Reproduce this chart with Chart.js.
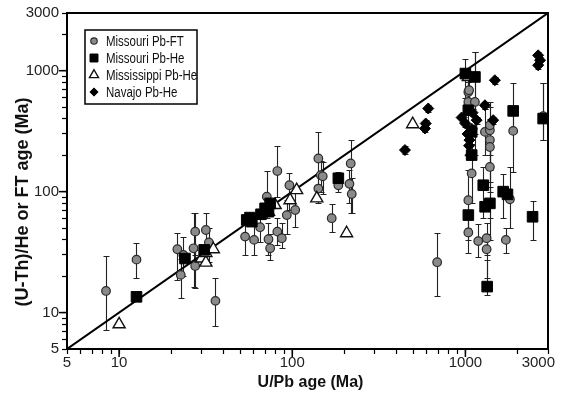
<!DOCTYPE html>
<html><head><meta charset="utf-8">
<script src="https://cdn.jsdelivr.net/npm/chart.js@4.4.0/dist/chart.umd.min.js"></script>
<style>html,body{margin:0;padding:0;background:#fff;}#wrap{width:561px;height:395px;}</style>
</head><body><div id="wrap"><canvas id="c" width="561" height="395"></canvas></div>
<script>
// ---- axis definitions ----
const axisMin = 5, axisMax = 3000;
const tickValues = [5,6,7,8,9,10,20,30,40,50,60,70,80,90,100,200,300,400,500,600,700,800,900,1000,2000,3000];
const tickLabels = [5,10,100,1000,3000];
const majorTicks = [10,100,1000];
const oneToOne = [5,3000];
const seriesNames = ['Missouri Pb-FT','Missouri Pb-He','Mississippi Pb-He','Navajo Pb-He'];
const xTitle = 'U/Pb age (Ma)';
const yTitle = '(U-Th)/He or FT age (Ma)';

// ---- Missouri Pb-FT (circles) ----
const ftX  = [8.4,12.6,36,21.7,22.7,23.5,26.9,27.5,31.7,27.5,33,53.4,60.2,65.2,72.9,74.5,82,82,71.3,93,87,96.3,104,141.5,146,150,141.5,169,184.6,217.6,214,220.6,687,1040,1040,1186,1326,1326,1713,1808,1888,2813,1040,1040,1135,1087,1297,1385,1385,1385,1385,1385,1050];
const ftY  = [15.1,27.4,12.5,33.4,20.5,30,34,46.7,48.2,24.3,38,42.5,39.9,50.8,40.4,34,46.7,148,90.8,64,41.2,113,70.5,188,137,134,106,60.3,113,171,116,95.6,26.1,85,46,39,41.2,33.4,39.9,86.5,318,420,667,552,552,141.6,312,322,267,160,234,354,689];
const ftLo = [7.2,19.4,7.8,18.6,13.2,20,16.4,30,33,16,26,30,30,38,30,27,36,90,60,45,34,70,50.8,110,100,95,80,46.7,100,66,80,66,13.8,50,31,28.7,30,19.3,31,50,146,267,450,300,200,80,200,150,100,60,120,200,500];
const ftHi = [29.4,37.5,19.3,45.8,28,42,66,66,66,33,50,58,52,66,55,45,60,238,147,85,55,142,110,310,180,175,140,79,129,267,150,130,45.8,150,64,53.7,55,45,49.8,160,465,789,1000,800,1427,250,480,500,400,260,350,550,900];

// ---- Missouri Pb-He (squares) ----
const mhX  = [12.6,24,31,54.6,58.4,57,69.7,72.9,74.5,66,184.6,1000,1135,1040,1087,1087,1040,1268,1300,1385,1653,1336,2443,1888,2813,1750];
const mhY  = [13.5,28,33,58.3,56.5,61,72.8,68.3,80,65,129,947,888,471,312,200.6,64,113,75,80,100,16.4,62,465,402,95];
const mhLo = [null,null,null,null,null,null,null,null,null,null,115,600,300,null,null,null,40,60,null,40,60,14,40,318,267,null];
const mhHi = [null,null,null,null,null,null,null,null,null,null,145,1259,1427,null,null,null,85,160,null,110,140,27,83,798,789,null];

// ---- Mississippi Pb-He (triangles) ----
const msX = [10,30,31.7,31.7,35,72.9,79.6,97.2,106,138.6,206,496,1040];
const msY = [8,28,25.9,31,33.4,68,77.5,85,103,88,45.3,361,888];

// ---- Navajo Pb-He (diamonds) ----
const nvX  = [447.7,584,590,610,951,1000,1030,1055,1090,1100,1161,1297,1447,1480,2631,2700,2631,1050,1070];
const nvY  = [220.7,333,366,487,410,366,300,267,330,450,390,518,390,834,1340,1220,1109,240,200];
const nvLo = [205,310,340,455,380,340,280,248,305,420,362,485,362,780,1260,1140,1040,222,185];
const nvHi = [237,356,392,520,440,392,320,286,355,480,418,552,418,890,1420,1300,1180,258,215];

const pts = (X,Y) => X.map((x,i)=>({x:x,y:Y[i]}));

Chart.defaults.font.family = "'Liberation Sans', Arial, sans-serif";
Chart.defaults.color = '#222';

const styles = [
  {pointStyle:'circle', radius:4.3, bg:'#8a8a8a', border:'#2a2a2a', bw:1.2},
  {pointStyle:'rect', radius:7.5, bg:'#000', border:'#000', bw:1},
  {pointStyle:'triangle', radius:7, bg:'#fff', border:'#111', bw:1.4},
  {pointStyle:'rectRot', radius:5.5, bg:'#000', border:'#000', bw:1}
];

const errorBars = {
  id:'errorBars',
  beforeDatasetsDraw(chart){
    const {ctx, chartArea} = chart; const xs = chart.scales.x, ys = chart.scales.y;
    ctx.save();
    ctx.beginPath(); ctx.rect(chartArea.left, chartArea.top, chartArea.width, chartArea.height); ctx.clip();
    ctx.strokeStyle = '#222'; ctx.lineWidth = 1.1;
    chart.data.datasets.forEach(ds => {
      if (!ds.errLo) return;
      ds.data.forEach((p,i) => {
        const lo = ds.errLo[i], hi = ds.errHi[i];
        if (lo == null || hi == null) return;
        const px = Math.round(xs.getPixelForValue(p.x)) + 0.5;
        const y1 = Math.round(ys.getPixelForValue(lo)) + 0.5, y2 = Math.round(ys.getPixelForValue(hi)) + 0.5;
        ctx.beginPath();
        ctx.moveTo(px, y1); ctx.lineTo(px, y2);
        ctx.moveTo(px-3, y1); ctx.lineTo(px+3, y1);
        ctx.moveTo(px-3, y2); ctx.lineTo(px+3, y2);
        ctx.stroke();
      });
    });
    ctx.restore();
  }
};

const decor = {
  id:'decor',
  afterDraw(chart){
    const {ctx, chartArea:ca} = chart; const xs = chart.scales.x, ys = chart.scales.y;
    ctx.save();
    // frame
    ctx.strokeStyle = '#000'; ctx.lineWidth = 2;
    ctx.strokeRect(ca.left, ca.top, ca.right-ca.left, ca.bottom-ca.top);
    // longer major ticks
    ctx.lineWidth = 1.5;
    majorTicks.forEach(v => {
      const px = xs.getPixelForValue(v), py = ys.getPixelForValue(v);
      ctx.beginPath(); ctx.moveTo(px, ca.bottom); ctx.lineTo(px, ca.bottom+8); ctx.stroke();
      ctx.beginPath(); ctx.moveTo(ca.left, py); ctx.lineTo(ca.left-8, py); ctx.stroke();
    });
    // x tick labels
    ctx.fillStyle = '#222'; ctx.font = "15px 'Liberation Sans', Arial, sans-serif";
    ctx.textAlign = 'center'; ctx.textBaseline = 'middle';
    tickLabels.forEach(v => {
      const s = String(v); const w = ctx.measureText(s).width;
      let cx = xs.getPixelForValue(v);
      cx = Math.min(cx, chart.width - 6 - w/2);
      ctx.fillText(s, cx, ca.bottom + 14);
    });
    // axis titles
    ctx.fillStyle = '#111';
    ctx.font = "bold 16px 'Liberation Sans', Arial, sans-serif";
    ctx.fillText(xTitle, (ca.left+ca.right)/2 + 3, ca.bottom + 34);
    ctx.font = "bold 18px 'Liberation Sans', Arial, sans-serif";
    ctx.translate(23, 202); ctx.rotate(-Math.PI/2);
    ctx.fillText(yTitle, 0, 0);
    ctx.restore();
    // legend
    ctx.save();
    const lx = ca.left + 18, ly = ca.top + 17, lw = 112, lh = 74;
    ctx.fillStyle = '#fff'; ctx.fillRect(lx, ly, lw, lh);
    ctx.strokeStyle = '#000'; ctx.lineWidth = 1.5; ctx.strokeRect(lx, ly, lw, lh);
    ctx.textAlign = 'left'; ctx.textBaseline = 'middle';
    seriesNames.forEach((n,i) => {
      const st = styles[i]; const cy = ly + 11 + i*17;
      ctx.fillStyle = st.bg; ctx.strokeStyle = st.border; ctx.lineWidth = st.bw;
      Chart.helpers.drawPoint(ctx, {pointStyle: st.pointStyle, radius: st.radius*0.75, borderWidth: st.bw, rotation:0}, lx + 9, cy);
      ctx.save();
      ctx.translate(lx + 21, cy + 1); ctx.scale(0.82, 1);
      ctx.font = "14px 'Liberation Sans', Arial, sans-serif";
      ctx.fillStyle = '#111';
      ctx.fillText(n, 0, 0);
      ctx.restore();
    });
    ctx.restore();
  }
};

const axisCommon = {
  type:'logarithmic', min:axisMin, max:axisMax,
  afterBuildTicks: s => { s.ticks = tickValues.map(v => ({value:v})); },
  grid:{display:true, drawOnChartArea:false, drawTicks:true, tickLength:5, tickColor:'#000', tickWidth:1.2},
  border:{display:true, color:'#000', width:2}
};

const mk = (label, data, st, order, lo, hi) => ({
  type:'scatter', label, data, order,
  pointStyle: st.pointStyle, pointRadius: st.radius, pointHoverRadius: st.radius,
  backgroundColor: st.bg, borderColor: st.border, borderWidth: st.bw,
  errLo: lo, errHi: hi
});

new Chart(document.getElementById('c'), {
  data:{ datasets:[
    {type:'line', label:'1:1', data: oneToOne.map(v=>({x:v,y:v})), borderColor:'#000', borderWidth:2, pointRadius:0, order:6, fill:false},
    mk(seriesNames[0], pts(ftX,ftY), styles[0], 5, ftLo, ftHi),
    mk(seriesNames[2], pts(msX,msY), styles[2], 4, null, null),
    mk(seriesNames[1], pts(mhX,mhY), styles[1], 3, mhLo, mhHi),
    mk(seriesNames[3], pts(nvX,nvY), styles[3], 2, nvLo, nvHi)
  ]},
  options:{
    responsive:false, animation:false, devicePixelRatio:1,
    layout:{padding:{left:0, right:13, top:13, bottom:0}},
    plugins:{legend:{display:false}, tooltip:{enabled:false}},
    scales:{
      x:Object.assign({}, axisCommon, {
        position:'bottom',
        ticks:{display:false, autoSkip:false},
        afterFit: s => { s.height = 46; s.paddingLeft = 0; s.paddingRight = 0; }
      }),
      y:Object.assign({}, axisCommon, {
        position:'left',
        ticks:{autoSkip:false, padding:3, font:{size:15}, color:'#222',
          callback: v => tickLabels.includes(v) ? String(v) : ''},
        afterFit: s => { s.width = 67; s.paddingTop = 0; s.paddingBottom = 0; }
      })
    }
  },
  plugins:[errorBars, decor]
});
</script>
</body></html>
